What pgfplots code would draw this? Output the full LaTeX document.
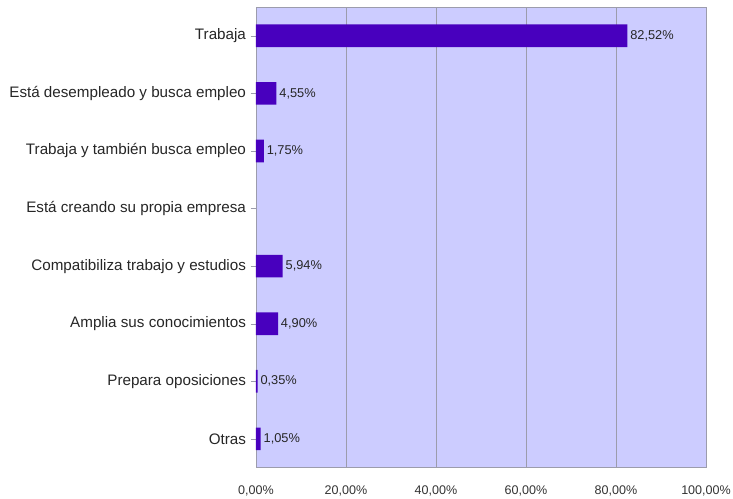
\documentclass[border=0pt]{standalone}
\usepackage{pgfplots}
\pgfplotsset{compat=1.18}
\usepackage{fontspec}
\setmainfont{Liberation Sans}

\definecolor{barc}{HTML}{4800BE}
\definecolor{bgc}{HTML}{CCCCFF}
\definecolor{gridc}{HTML}{9C9CAC}

\begin{document}
\begin{tikzpicture}
% page = 733x499 px at 0.75pt per px
\useasboundingbox (-192pt,-23.5pt) rectangle (357.75pt,350.75pt);
\begin{axis}[
  scale only axis,
  width=337.5pt, height=345.5pt,
  xbar, bar width=17pt,
  xmin=0, xmax=100,
  ymin=-0.5, ymax=7.5, y dir=reverse,
  ytick={0,...,7}, ytick pos=left,
  yticklabels={Trabaja, Está desempleado y busca empleo, Trabaja y también busca empleo,
    Está creando su propia empresa, Compatibiliza trabajo y estudios,
    Amplia sus conocimientos, Prepara oposiciones, Otras},
  xtick={0,20,...,100},
  xticklabel={\pgfmathprintnumber[fixed,fixed zerofill,precision=2,use comma,assume math mode=true]{\tick}\%},
  xticklabel style={font=\fontsize{9.4}{11}\selectfont, text=black!80, yshift=-6pt},
  yticklabel style={font=\fontsize{11.4}{13}\selectfont, text=black!85},
  axis background/.style={fill=bgc},
  xmajorgrids, major grid style={gridc, line width=0.6pt},
  axis line style={gridc, line width=0.6pt},
  tick align=outside, major tick length=4pt,
  ytick style={gridc}, xtick style={draw=none},
  point meta=x,
  nodes near coords={\pgfmathprintnumber[fixed,fixed zerofill,precision=2,use comma,assume math mode=true]{\pgfplotspointmeta}\%},
  nodes near coords style={font=\fontsize{9.6}{11}\selectfont, text=black!85, anchor=west, inner sep=2pt},
]
\addplot[draw=none, fill=barc] coordinates {
  (82.52,0) (4.55,1) (1.75,2) (5.94,4) (4.90,5) (0.35,6) (1.05,7)
};
\end{axis}
\end{tikzpicture}
\end{document}
